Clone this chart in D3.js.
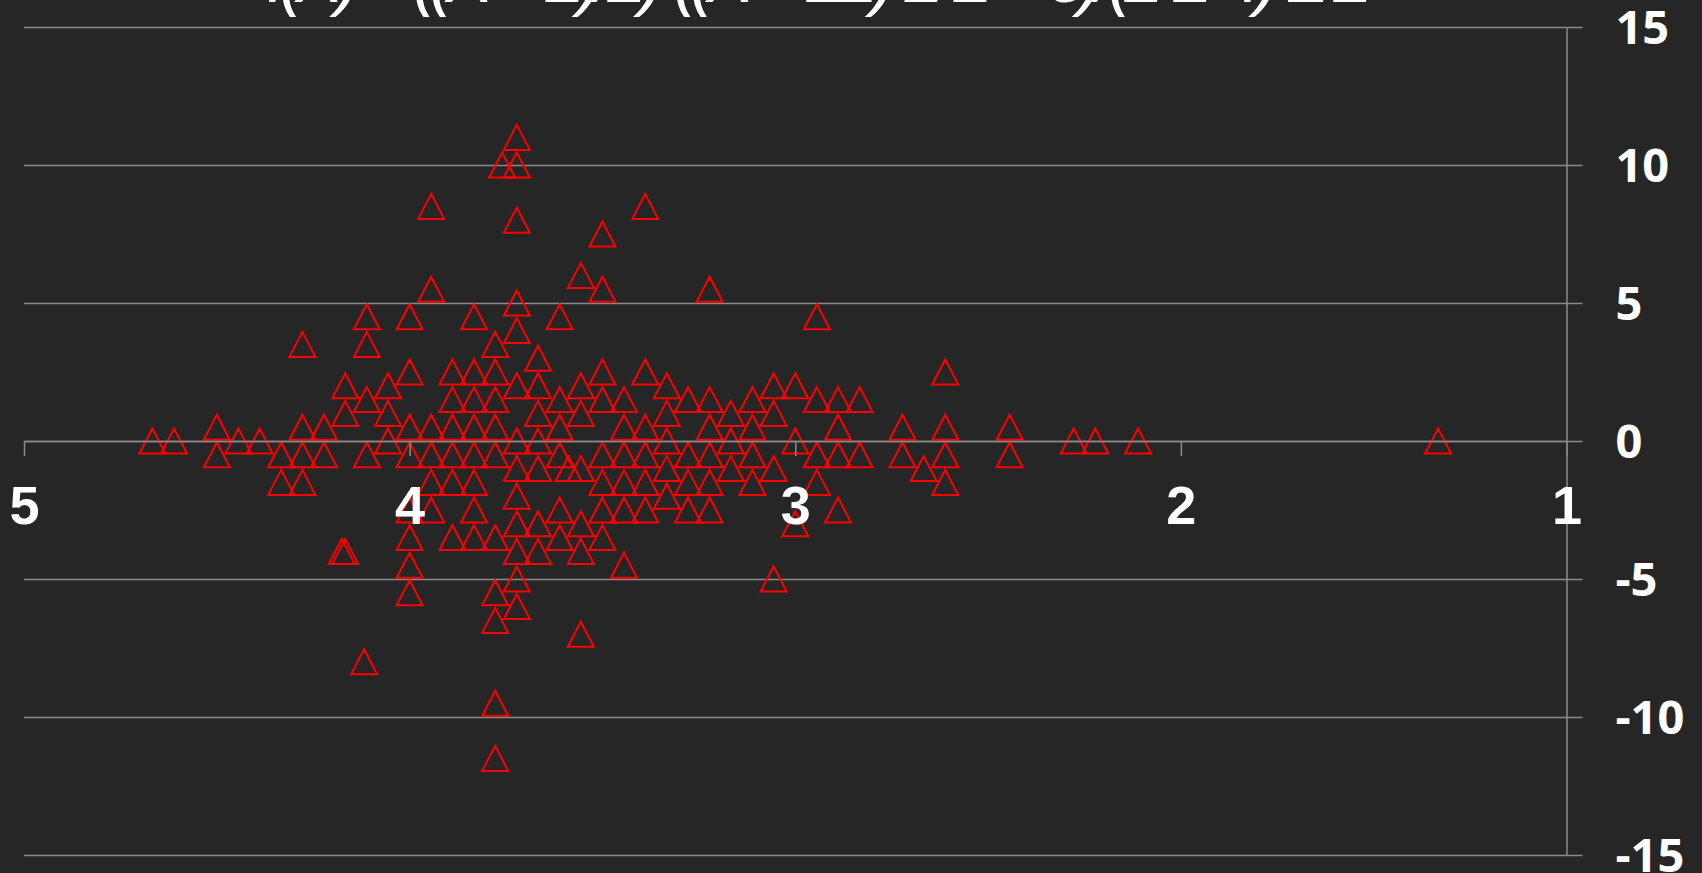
<!DOCTYPE html>
<html>
<head>
<meta charset="utf-8">
<script src="https://cdn.jsdelivr.net/npm/d3@7"></script>
<style>
    body { margin: 0; background: #262626; overflow: hidden; }
</style>
</head>
<body>
<div id="chart"></div>
<script>
// one entry per point (x = mean score, y = difference)
var xValues = [
    4.667, 4.611, 4.5, 4.5, 4.444, 4.389, 4.333, 4.333,
    4.278, 4.278, 4.278, 4.278, 4.222, 4.222, 4.176, 4.167, 4.167, 4.167, 4.118,
    4.111, 4.111, 4.111, 4.111, 4.056, 4.056, 4.056,
    4, 4, 4, 4, 4, 4, 4, 4,
    3.944, 3.944, 3.944, 3.944, 3.944, 3.944,
    3.889, 3.889, 3.889, 3.889, 3.889, 3.889,
    3.833, 3.833, 3.833, 3.833, 3.833, 3.833, 3.833, 3.833,
    3.778, 3.778, 3.778, 3.778, 3.778, 3.778, 3.778, 3.778, 3.778, 3.778,
    3.76,
    3.722, 3.722, 3.722, 3.722, 3.722, 3.722, 3.722, 3.722, 3.722, 3.722, 3.722, 3.722, 3.722,
    3.667, 3.667, 3.667, 3.667, 3.667, 3.667, 3.667,
    3.611, 3.611, 3.611, 3.611, 3.611, 3.611,
    3.588,
    3.556, 3.556, 3.556, 3.556, 3.556, 3.556, 3.556,
    3.5, 3.5, 3.5, 3.5, 3.5, 3.5, 3.5, 3.5,
    3.444, 3.444, 3.444, 3.444, 3.444, 3.444,
    3.389, 3.389, 3.389, 3.389, 3.389, 3.389,
    3.333, 3.333, 3.333, 3.333, 3.333,
    3.278, 3.278, 3.278, 3.278,
    3.222, 3.222, 3.222, 3.222, 3.222, 3.222,
    3.167, 3.167, 3.167,
    3.111, 3.111, 3.111, 3.111,
    3.056, 3.056, 3.056, 3.056,
    3, 3, 3,
    2.944, 2.944, 2.944, 2.944,
    2.889, 2.889, 2.889, 2.889,
    2.833, 2.833,
    2.722, 2.722, 2.667,
    2.611, 2.611, 2.611, 2.611,
    2.444, 2.444,
    2.278, 2.222, 2.111, 1.333
];
var yValues = [
    0, 0, 0.5, -0.5, 0, 0, -0.5, -1.5,
    3.5, 0.5, -0.5, -1.5, 0.5, -0.5, -4, 2, 1, -4, -8,
    4.5, 3.5, 1.5, -0.5, 2, 1, 0,
    4.5, 2.5, 0.5, -0.5, -2.5, -3.5, -4.5, -5.5,
    8.5, 5.5, 0.5, -0.5, -1.5, -2.5,
    2.5, 1.5, 0.5, -0.5, -1.5, -3.5,
    4.5, 2.5, 1.5, 0.5, -0.5, -1.5, -2.5, -3.5,
    3.5, 2.5, 1.5, 0.5, -0.5, -3.5, -5.5, -6.5, -9.5, -11.5,
    10,
    11, 10, 8, 5, 4, 2, 0, -1, -2, -3, -4, -5, -6,
    3, 2, 1, 0, -1, -3, -4,
    4.5, 1.5, 0.5, -0.5, -2.5, -3.5,
    -1,
    6, 2, 1, -1, -3, -4, -7,
    7.5, 5.5, 2.5, 1.5, -0.5, -1.5, -2.5, -3.5,
    1.5, 0.5, -0.5, -1.5, -2.5, -4.5,
    8.5, 2.5, 0.5, -0.5, -1.5, -2.5,
    2, 1, 0, -1, -2,
    1.5, -0.5, -1.5, -2.5,
    5.5, 1.5, 0.5, -0.5, -1.5, -2.5,
    1, 0, -1,
    1.5, 0.5, -0.5, -1.5,
    2, 1, -1, -5,
    2, 0, -3,
    4.5, 1.5, -0.5, -1.5,
    1.5, 0.5, -0.5, -2.5,
    1.5, -0.5,
    0.5, -0.5, -1,
    2.5, 0.5, -0.5, -1.5,
    0.5, -0.5,
    0, 0, 0, 0
];
var xTicks = [5, 4, 3, 2, 1];
var yTicks = [-15, -10, -5, 0, 5, 10, 15];
var titleText = "f(X) = ((X \u2212 2)/2)\u00b7((X \u2212 22)\u00b72\u00b72 \u2212 3)/(2\u00b72\u00b74)\u00b72/2";

function init() {
    var w = 1702;
    var h = 873;
    var plotLeft = 24;
    var plotRight = 1566.5;
    var plotTop = 27;
    var plotBottom = 855;
    var gridColor = "#8a8a8a";

    var dataset = xValues.map(function(x, i) {
        return { x: x, y: yValues[i] };
    });

    var svg = d3.select("#chart")
        .append("svg")
        .attr("width", w)
        .attr("height", h)
        .style("display", "block");

    svg.append("rect")
        .attr("width", w)
        .attr("height", h)
        .attr("fill", "#262626");

    // reversed x axis: 5 on the left, 1 on the right
    var xScale = d3.scaleLinear()
        .domain([5, 1])
        .range([plotLeft, plotRight]);

    var yScale = d3.scaleLinear()
        .domain([-15, 15])
        .range([plotBottom, plotTop]);

    // horizontal gridlines
    var grid = svg.append("g")
        .attr("transform", "translate(" + plotRight + ",0)")
        .call(d3.axisLeft(yScale)
            .tickValues(yTicks)
            .tickSize(plotRight - plotLeft)
            .tickFormat(""));
    grid.select(".domain").remove();
    grid.selectAll("line")
        .attr("stroke", gridColor)
        .attr("stroke-width", 1.5);

    // y axis on the right side
    var yAxis = svg.append("g")
        .attr("transform", "translate(" + plotRight + ",0)")
        .call(d3.axisRight(yScale)
            .tickValues(yTicks)
            .tickSize(16)
            .tickSizeOuter(0)
            .tickPadding(33)
            .tickFormat(function(d) { return String(d); }));
    yAxis.select(".domain")
        .attr("stroke", gridColor)
        .attr("stroke-width", 1.5);
    yAxis.selectAll("line")
        .attr("stroke", gridColor)
        .attr("stroke-width", 1.5);
    yAxis.selectAll("text")
        .attr("dy", "0.36em")
        .attr("fill", "#ffffff")
        .style("font-family", "'Open Sans', sans-serif")
        .style("font-weight", "700")
        .style("font-size", "47px");

    // x axis along y = 0
    var xAxis = svg.append("g")
        .attr("transform", "translate(0," + yScale(0) + ")")
        .call(d3.axisBottom(xScale)
            .tickValues(xTicks)
            .tickSize(15)
            .tickSizeOuter(0)
            .tickFormat(d3.format("d")));
    xAxis.select(".domain")
        .attr("stroke", gridColor)
        .attr("stroke-width", 1.5);
    xAxis.selectAll("line")
        .attr("stroke", gridColor)
        .attr("stroke-width", 1.5);

    // triangle markers, outline only
    var tri = "M0,-12.5L13,12.5L-13,12.5Z";
    svg.append("g")
        .selectAll("path")
        .data(dataset)
        .enter()
        .append("path")
        .attr("d", tri)
        .attr("transform", function(d) {
            return "translate(" + xScale(d.x) + "," + yScale(d.y) + ")";
        })
        .attr("fill", "none")
        .attr("stroke", "#ff0000")
        .attr("stroke-width", 2);

    // x labels sit on top of the markers
    xAxis.raise();
    xAxis.selectAll("text")
        .attr("y", 83)
        .attr("dy", null)
        .attr("fill", "#ffffff")
        .style("font-family", "'Liberation Sans', Arial, sans-serif")
        .style("font-weight", "bold")
        .style("font-size", "54px");

    // title, mostly cut off by the top edge
    svg.append("text")
        .attr("x", 820)
        .attr("y", 2)
        .attr("text-anchor", "middle")
        .attr("textLength", 1107)
        .attr("lengthAdjust", "spacing")
        .attr("fill", "#ffffff")
        .style("font-family", "'Liberation Sans', sans-serif")
        .style("font-style", "italic")
        .style("font-size", "72px")
        .text(titleText);
}

window.onload = init;
</script>
</body>
</html>
